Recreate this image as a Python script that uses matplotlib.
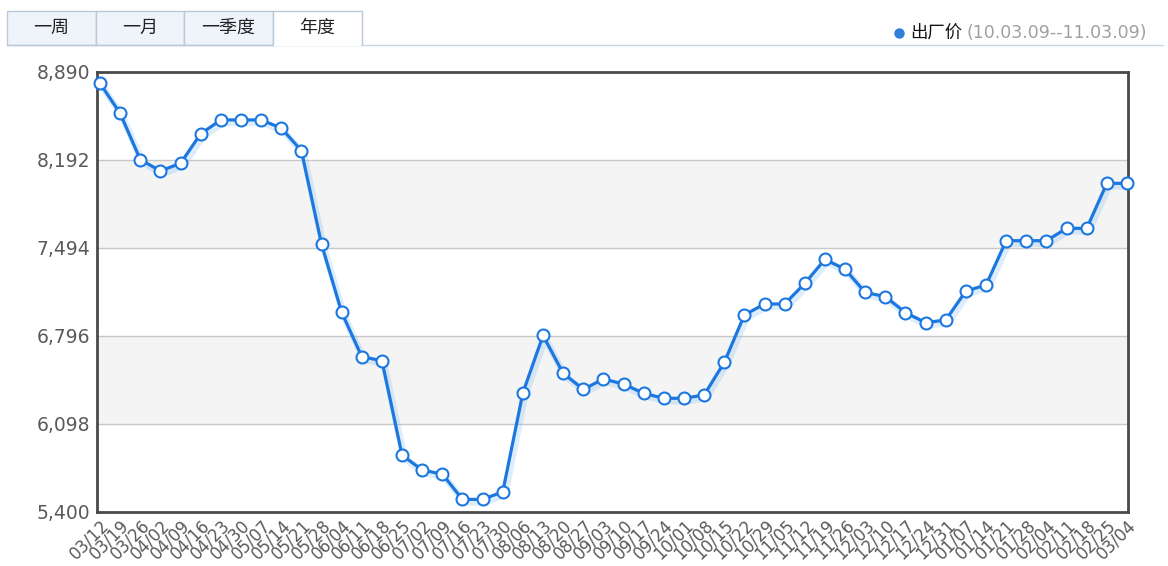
import matplotlib
matplotlib.use("Agg")
import matplotlib.pyplot as plt
import matplotlib.patheffects as pe
from matplotlib.patches import Rectangle

plt.rcParams['font.family'] = ['DejaVu Sans', 'Noto Sans CJK SC']

# Weekly ex-factory price, 2010-03-12 .. 2011-03-04
dates = ["03/12", "03/19", "03/26", "04/02", "04/09", "04/16", "04/23", "04/30",
         "05/07", "05/14", "05/21", "05/28", "06/04", "06/11", "06/18", "06/25",
         "07/02", "07/09", "07/16", "07/23", "07/30", "08/06", "08/13", "08/20",
         "08/27", "09/03", "09/10", "09/17", "09/24", "10/01", "10/08", "10/15",
         "10/22", "10/29", "11/05", "11/12", "11/19", "11/26", "12/03", "12/10",
         "12/17", "12/24", "12/31", "01/07", "01/14", "01/21", "01/28", "02/04",
         "02/11", "02/18", "02/25", "03/04"]
prices = [8800, 8562, 8195, 8105, 8166, 8400, 8510, 8510,
          8510, 8445, 8266, 7525, 6984, 6632, 6600, 5850,
          5733, 5700, 5500, 5500, 5560, 6346, 6800, 6500,
          6373, 6455, 6415, 6341, 6302, 6302, 6328, 6587,
          6963, 7050, 7050, 7214, 7404, 7325, 7142, 7108,
          6981, 6902, 6923, 7153, 7200, 7552, 7552, 7552,
          7650, 7650, 8007, 8007]
y_ticks = [5400, 6098, 6796, 7494, 8192, 8890]
tabs = ["一周", "一月", "一季度", "年度"]
series_name = "出厂价"
period = "(10.03.09--11.03.09)"

W, H = 1168, 566
fig = plt.figure(figsize=(W / 100, H / 100), dpi=100)
fig.patch.set_facecolor("white")

# Overlay in pixel coordinates for the tab strip and legend
ov = fig.add_axes([0, 0, 1, 1])
ov.set_xlim(0, W)
ov.set_ylim(H, 0)
ov.axis("off")

tab_edges = [7, 96, 184, 273, 362]
tab_top, tab_bot = 11, 45
border = "#b9c9d9"
for i, name in enumerate(tabs):
    x0, x1 = tab_edges[i], tab_edges[i + 1]
    active = i == len(tabs) - 1
    ov.add_patch(Rectangle((x0, tab_top), x1 - x0, tab_bot - tab_top,
                           facecolor="white" if active else "#eef4fa",
                           edgecolor=border, linewidth=1.0, zorder=1))
    ov.text((x0 + x1) / 2, 28, name, ha="center", va="center",
            fontsize=13, color="#222222",
            family=["Noto Sans CJK SC", "DejaVu Sans"], zorder=3)
# baseline under tabs, open under the active one
ov.plot([7, 273], [tab_bot, tab_bot], color=border, lw=1.0, zorder=2)
ov.plot([362, 1163], [tab_bot, tab_bot], color="#c9d5e0", lw=1.0, zorder=2)
ov.add_patch(Rectangle((273.8, tab_bot - 1), 87.4, 2, facecolor="white",
                       edgecolor="none", zorder=2))

# legend
ov.plot([899], [33], marker="o", ms=6.5, color="#2f7fd9", mec="#2f7fd9", zorder=3)
ov.text(910, 33, series_name, ha="left", va="center", fontsize=12.5,
        color="#111111", family=["Noto Sans CJK SC", "DejaVu Sans"])
ov.text(966, 33, period, ha="left", va="center", fontsize=12.5,
        color="#a0a0a0", family=["DejaVu Sans"])

# Main chart
left, right, top, bottom = 97, 1128, 72, 512
ax = fig.add_axes([left / W, 1 - bottom / H, (right - left) / W, (bottom - top) / H])
x = list(range(len(prices)))
ax.set_xlim(-0.15, len(prices) - 1 + 0.05)
ax.set_ylim(y_ticks[0], y_ticks[-1])

# alternating bands
for k in range(len(y_ticks) - 1):
    if k % 2 == 1:
        ax.axhspan(y_ticks[k], y_ticks[k + 1], facecolor="#f4f4f4",
                   edgecolor="none", zorder=0)
for v in y_ticks[1:-1]:
    ax.axhline(v, color="#c8c8c8", lw=1.0, zorder=1)

line_color = "#1c78e0"
ax.plot(x, prices, color=line_color, lw=2.3, zorder=3, clip_on=False,
        path_effects=[pe.SimpleLineShadow(offset=(1.5, -2), shadow_color="#7ab8f2",
                                          alpha=0.25, linewidth=5),
                      pe.Normal()])
ax.plot(x, prices, linestyle="none", marker="o", ms=8.6, mfc="white",
        mec=line_color, mew=1.5, zorder=4, clip_on=False)

ax.set_yticks(y_ticks)
ax.set_yticklabels([f"{v:,}" for v in y_ticks])
ax.set_xticks(x)
ax.set_xticklabels(dates, rotation=45, ha="right", va="top",
                   rotation_mode="anchor")
ax.tick_params(axis="y", length=0, colors="#5a5a5a", labelsize=13.5, pad=5)
ax.tick_params(axis="x", length=0, colors="#5a5a5a", labelsize=12, pad=3)
for s in ax.spines.values():
    s.set_color("#4a4a4a")
    s.set_linewidth(2.0)
ax.set_facecolor("white")

fig.savefig("out.png", dpi=100, facecolor="white")
